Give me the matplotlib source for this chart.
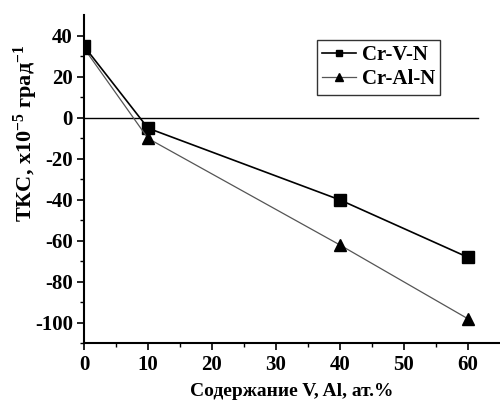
import matplotlib
matplotlib.use('Agg')
import matplotlib.pyplot as plt

plt.rcParams['font.family'] = 'Liberation Serif'
plt.rcParams['font.weight'] = 'bold'
plt.rcParams['mathtext.fontset'] = 'custom'
plt.rcParams['mathtext.rm'] = 'Liberation Serif:bold'
plt.rcParams['mathtext.it'] = 'Liberation Serif:bold'
plt.rcParams['mathtext.bf'] = 'Liberation Serif:bold'
plt.rcParams['mathtext.default'] = 'rm'
plt.rcParams['axes.unicode_minus'] = False

# данные
x_vals = [0, 10, 40, 60]
cr_v_n = [35, -5, -40, -68]
cr_al_n = [34, -10, -62, -98]
x_ticks = [0, 10, 20, 30, 40, 50, 60]
y_ticks = [-100, -80, -60, -40, -20, 0, 20, 40]

fig = plt.figure(figsize=(5, 4.05), dpi=100)
ax = fig.add_axes([0.168, 0.152, 0.832, 0.81])

ax.plot([0, 61.5], [0, 0], color='black', lw=1.0)
ax.plot(x_vals, cr_v_n, color='black', lw=1.2, marker='s', ms=8,
        markerfacecolor='black', label='Cr-V-N')
ax.plot(x_vals, cr_al_n, color='#555555', lw=0.9, marker='^', ms=9,
        markerfacecolor='black', markeredgecolor='black', label='Cr-Al-N')

ax.set_xlim(0, 65)
ax.set_ylim(-110, 50)
ax.set_xticks(x_ticks)
ax.set_yticks(y_ticks)
ax.set_xticks(range(5, 65, 10), minor=True)
ax.set_yticks(range(-110, 50, 20), minor=True)

for s in ['top', 'right']:
    ax.spines[s].set_visible(False)
for s in ['left', 'bottom']:
    ax.spines[s].set_linewidth(1.5)

ax.tick_params(which='major', direction='out', length=5, width=1.2, labelsize=15, pad=3)
ax.tick_params(which='minor', direction='out', length=3, width=1.0)
for lbl in ax.get_xticklabels() + ax.get_yticklabels():
    lbl.set_fontweight('bold')

ax.set_xlabel('Содержание V, Al, ат.%', fontsize=14, fontweight='bold')
ax.xaxis.set_label_coords(0.5, -0.12)
ax.set_ylabel('ТКС, x10$^{-5}$ град$^{-1}$', fontsize=16, fontweight='bold')
ax.yaxis.set_label_coords(-0.105, 0.64)

leg = ax.legend(loc='upper left', bbox_to_anchor=(0.56, 0.925), fontsize=15,
                frameon=True, fancybox=False, edgecolor='black',
                handlelength=1.6, markerscale=0.6, borderpad=0.25,
                labelspacing=0.2, handletextpad=0.3, borderaxespad=0)
leg.get_frame().set_linewidth(1.0)

fig.savefig('out.png', dpi=100)
